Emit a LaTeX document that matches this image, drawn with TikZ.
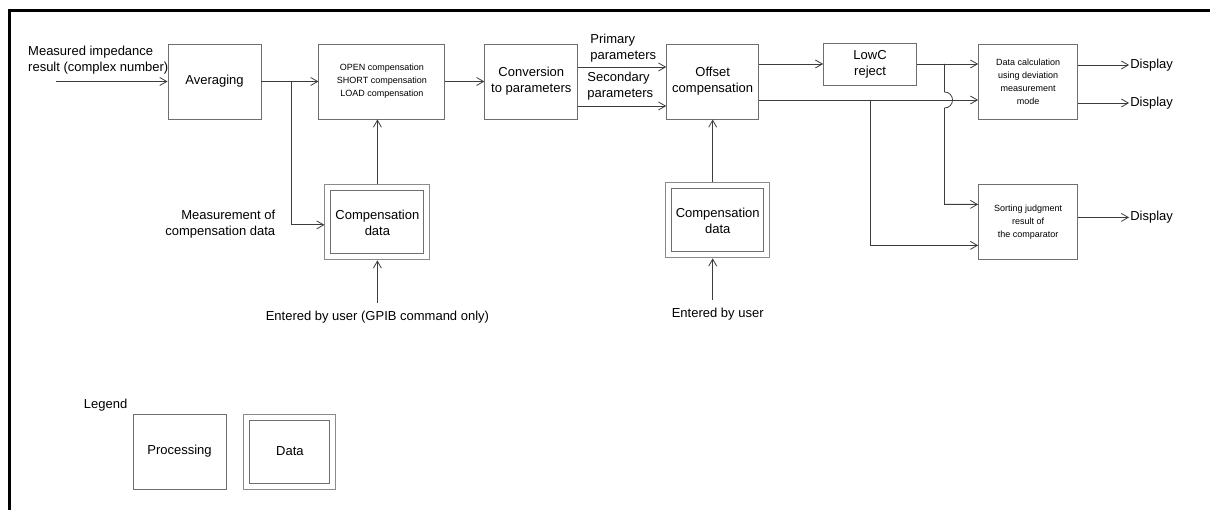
\documentclass[tikz,border=0pt]{standalone}
\usepackage{fontspec}
\setmainfont{Liberation Sans}
\usepackage{xcolor}
\usepackage{tikz}
\usetikzlibrary{arrows.meta, positioning, calc}
\definecolor{trait}{HTML}{3C3C3C}
\definecolor{cadre}{HTML}{6E6E6E}
\definecolor{cadreclair}{HTML}{8A8A8A}
\tikzset{
  bloc/.style={rectangle, draw=cadre, fill=white, line width=0.9bp, text=black,
    font=\fontsize{13bp}{16bp}\selectfont, align=center, inner sep=2bp,
    minimum width=93bp, minimum height=75bp},
  blocfin/.style={bloc, font=\fontsize{9bp}{13bp}\selectfont},
  donnees/.style={bloc, draw=cadreclair, minimum width=105bp, minimum height=75bp,
    path picture={\draw[cadre, line width=0.9bp]
      ([shift={(6bp,-6bp)}]path picture bounding box.north west) rectangle
      ([shift={(-6bp,6bp)}]path picture bounding box.south east);}},
  fleche/.style={-{Straight Barb[length=7bp, width=8bp]}, line width=0.8bp, color=trait},
  etiquette/.style={font=\fontsize{13bp}{16bp}\selectfont, inner sep=1bp},
  cadrepage/.style={line width=3bp, color=black}
}

\begin{document}
\begin{tikzpicture}[x=1bp, y=1bp]
    \useasboundingbox (0,0) rectangle (1210,-510);
    \draw[cadrepage] (1210,-11) -- (9,-11) -- (9,-510);

    % chaine de mesure
    \node[bloc] (avg) at (214.5,-81.5) {Averaging};
    \node[blocfin, right=57bp of avg, minimum width=126bp] (comp) {OPEN compensation\\ SHORT compensation\\ LOAD compensation};
    \node[bloc, right=39bp of comp] (conv) {Conversion\\ to parameters};
    \node[bloc, right=88bp of conv, minimum width=92bp] (off) {Offset\\ compensation};
    \node[bloc, right=64bp of off, yshift=17.5bp, minimum height=42bp] (lowc) {LowC\\ reject};
    \node[blocfin, right=219bp of off, minimum width=99bp] (calc) {Data calculation\\ using deviation\\ measurement\\ mode};
    \node[blocfin, below=65bp of calc, minimum width=99bp] (tri) {Sorting judgment\\ result of\\ the comparator};

    % donnees de compensation
    \node[donnees, below=65bp of comp, xshift=-4.5bp] (cdata1) {Compensation\\ data};
    \node[donnees, below=63bp of off, xshift=5bp, minimum width=104bp] (cdata2) {Compensation\\ data};
    \node[etiquette, inner ysep=8bp, below=43bp of cdata1] (user1) {Entered by user (GPIB command only)};
    \node[etiquette, inner ysep=8bp, below=42bp of cdata2] (user2) {Entered by user};

    % etiquettes
    \coordinate[left=112bp of avg] (entree);
    \node[etiquette, align=left, anchor=west] (mesure) at (27,-60) {Measured impedance\\ result (complex number)};
    \node[etiquette, align=left, anchor=west] (prim) at ($(conv.east)+(11bp,33bp)$) {Primary\\ parameters};
    \node[etiquette, align=left, anchor=west] (sec) at ($(conv.east)+(8bp,-5bp)$) {Secondary\\ parameters};
    \node[etiquette, align=right, anchor=east] (mescomp) at ($(cdata1.west)+(-48bp,-1.5bp)$) {Measurement of\\ compensation data};
    \node[etiquette, anchor=west] (aff1) at ([xshift=51bp, yshift=16.5bp]calc.east) {Display};
    \node[etiquette, anchor=west] (aff2) at ([xshift=51bp, yshift=-21.5bp]calc.east) {Display};
    \node[etiquette, anchor=west] (aff3) at ([xshift=51bp, yshift=5bp]tri.east) {Display};

    % legende
    \node[bloc] (proc) at (179.5,-451.5) {Processing};
    \node[donnees, right=17bp of proc, minimum width=92bp] (dleg) {Data};
    \node[etiquette, anchor=south east] (legende) at ($(proc.north west)+(-4bp,1bp)$) {Legend};

    \draw[fleche] (entree) -- (avg);
    \draw[fleche] (avg) -- (comp);
    \coordinate (b1) at ($(avg.east)!0.525!(comp.west)$);
    \draw[fleche] (b1) |- ([yshift=-2.5bp]cdata1.west);
    \draw[fleche] (cdata1.north) -- (cdata1.north |- comp.south);
    \draw[fleche] (user1) -- (cdata1);
    \draw[fleche] (comp) -- (conv);
    \draw[fleche] ([yshift=14.5bp]conv.east) -- ([yshift=14.5bp]off.west);
    \draw[fleche] ([yshift=-24.5bp]conv.east) -- ([yshift=-24.5bp]off.west);
    \draw[fleche] (cdata2.north -| off) -- (off.south);
    \draw[fleche] (user2.north -| off) -- (cdata2.south -| off);
    \draw[fleche] (off.east |- lowc) -- (lowc);
    \draw[fleche] (lowc) -- (lowc -| calc.west);
    \coordinate (b2) at ($(lowc.east)!0.45!(lowc.east -| calc.west)$);
    \draw[fleche] ([yshift=-18.5bp]off.east) -- ([yshift=-18.5bp]calc.west);
    % saut au-dessus de la ligne secondaire
    \draw[fleche] (b2) -- ($(b2 |- calc.west)+(0,-10.5bp)$)
      arc[start angle=90, end angle=-90, radius=8bp] |- ([yshift=18bp]tri.west);
    \draw[fleche] ([yshift=-18.5bp]off.east -| lowc) |- ([yshift=-23bp]tri.west);
    \draw[fleche] ([yshift=16.5bp]calc.east) -- (aff1);
    \draw[fleche] ([yshift=-21.5bp]calc.east) -- (aff2);
    \draw[fleche] ([yshift=5bp]tri.east) -- (aff3);
\end{tikzpicture}
\end{document}
